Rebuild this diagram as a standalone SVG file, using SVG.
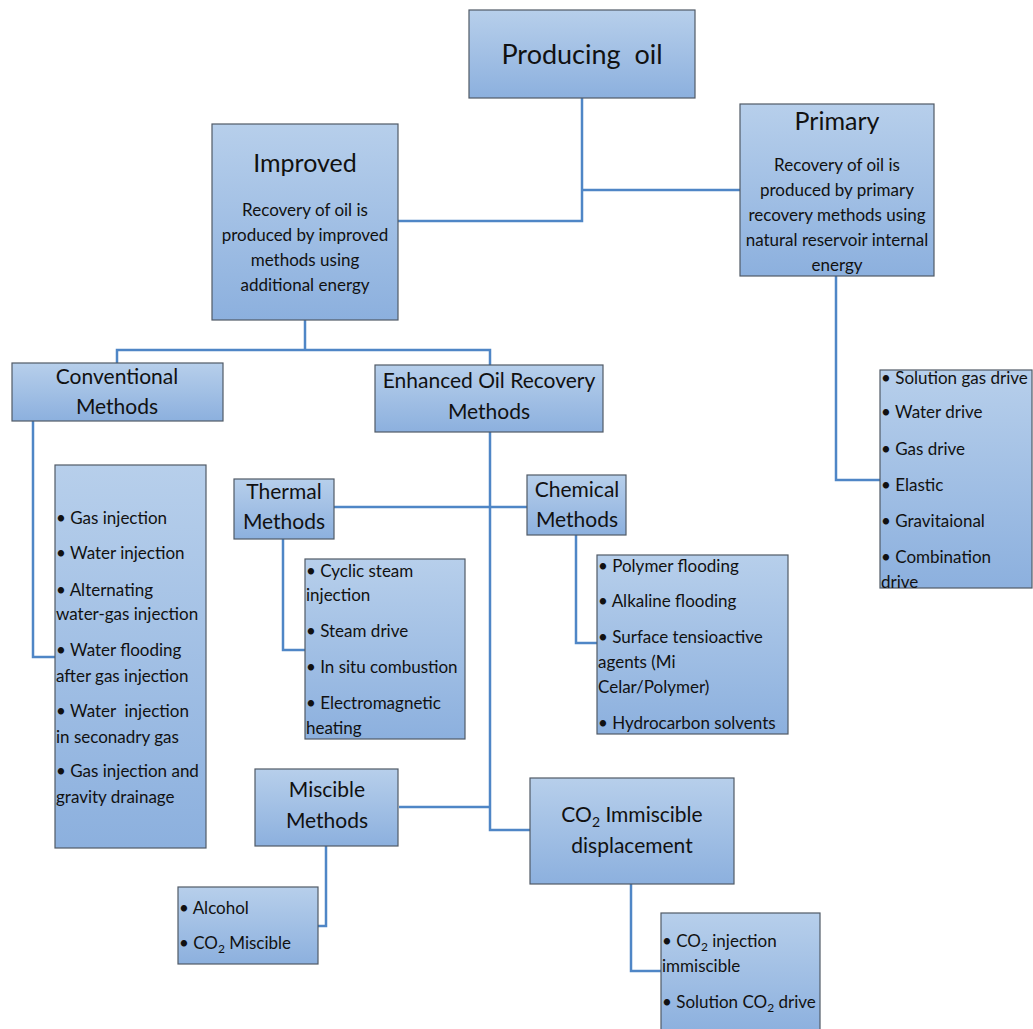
<svg xmlns="http://www.w3.org/2000/svg" width="1033" height="1029" viewBox="0 0 1033 1029">
<defs>
<linearGradient id="g" x1="0" y1="0" x2="0" y2="1">
<stop offset="0" stop-color="#b7cfeb"/>
<stop offset="1" stop-color="#8cb0de"/>
</linearGradient>
</defs>
<style>
.box{fill:url(#g);stroke:#505a66;stroke-width:1.2}
.ln{fill:none;stroke:#4f86c6;stroke-width:2.5}
text{font-family:Lato,"Liberation Sans",sans-serif;fill:#111}
.c{text-anchor:middle}
.t1{font-size:27px}
.t2{font-size:25px}
.t3{font-size:21px}
.b{font-size:17px}
.l{font-size:17px}
</style>
<rect width="1033" height="1029" fill="#fff"/>
<g id="connectors">
<polyline class="ln" points="582,98 582,221 398,221"/>
<line class="ln" x1="582" y1="190" x2="740" y2="190"/>
<polyline class="ln" points="836,276 836,480 880,480"/>
<polyline class="ln" points="305,320 305,350"/>
<polyline class="ln" points="117,363 117,350 490,350 490,365"/>
<polyline class="ln" points="33,421 33,657 55,657"/>
<polyline class="ln" points="490,432 490,830 530,830"/>
<line class="ln" x1="334" y1="507" x2="527" y2="507"/>
<line class="ln" x1="399" y1="807" x2="490" y2="807"/>
<polyline class="ln" points="283,539 283,650 305,650"/>
<polyline class="ln" points="576,535 576,643 597,643"/>
<polyline class="ln" points="326,846 326,926 318,926"/>
<polyline class="ln" points="631,884 631,971 661,971"/>
</g>
<g id="producing">
<rect class="box" x="469" y="10" width="226" height="88"/>
<text class="c t1" x="582" y="64" xml:space="preserve">Producing  oil</text>
</g>
<g id="primary">
<rect class="box" x="740" y="104" width="194" height="172"/>
<text class="c t2" x="837" y="130">Primary</text>
<text class="c b" x="837" y="171">Recovery of oil is</text>
<text class="c b" x="837" y="196">produced by primary</text>
<text class="c b" x="837" y="221">recovery methods using</text>
<text class="c b" x="837" y="246">natural reservoir internal</text>
<text class="c b" x="837" y="271">energy</text>
</g>
<g id="primary-list">
<rect class="box" x="880" y="370" width="152" height="218"/>
<text class="l" x="881" y="384">• Solution gas drive</text>
<text class="l" x="881" y="418">• Water drive</text>
<text class="l" x="881" y="455">• Gas drive</text>
<text class="l" x="881" y="491">• Elastic</text>
<text class="l" x="881" y="527">• Gravitaional</text>
<text class="l" x="881" y="563">• Combination</text>
<text class="l" x="881" y="588">drive</text>
</g>
<g id="improved">
<rect class="box" x="212" y="124" width="186" height="196"/>
<text class="c t2" x="305" y="172">Improved</text>
<text class="c b" x="305" y="216">Recovery of oil is</text>
<text class="c b" x="305" y="241">produced by improved</text>
<text class="c b" x="305" y="266">methods using</text>
<text class="c b" x="305" y="291">additional energy</text>
</g>
<g id="conventional">
<rect class="box" x="12" y="363" width="211" height="58"/>
<text class="c t3" x="117" y="384">Conventional</text>
<text class="c t3" x="117" y="414">Methods</text>
</g>
<g id="conventional-list">
<rect class="box" x="55" y="465" width="151" height="383"/>
<text class="l" x="56" y="524">• Gas injection</text>
<text class="l" x="56" y="559">• Water injection</text>
<text class="l" x="56" y="596">• Alternating</text>
<text class="l" x="56" y="620">water-gas injection</text>
<text class="l" x="56" y="656">• Water flooding</text>
<text class="l" x="56" y="682">after gas injection</text>
<text class="l" x="56" y="717" xml:space="preserve">• Water  injection</text>
<text class="l" x="56" y="743">in seconadry gas</text>
<text class="l" x="56" y="777">• Gas injection and</text>
<text class="l" x="56" y="803">gravity drainage</text>
</g>
<g id="eor">
<rect class="box" x="375" y="365" width="228" height="67"/>
<text class="c t3" x="489" y="388">Enhanced Oil Recovery</text>
<text class="c t3" x="489" y="419">Methods</text>
</g>
<g id="thermal">
<rect class="box" x="234" y="479" width="100" height="60"/>
<text class="c t3" x="284" y="499">Thermal</text>
<text class="c t3" x="284" y="529">Methods</text>
</g>
<g id="thermal-list">
<rect class="box" x="305" y="559" width="160" height="180"/>
<text class="l" x="306" y="577">• Cyclic steam</text>
<text class="l" x="306" y="601">injection</text>
<text class="l" x="306" y="637">• Steam drive</text>
<text class="l" x="306" y="673">• In situ combustion</text>
<text class="l" x="306" y="709">• Electromagnetic</text>
<text class="l" x="306" y="734">heating</text>
</g>
<g id="chemical">
<rect class="box" x="527" y="475" width="99" height="60"/>
<text class="c t3" x="577" y="497">Chemical</text>
<text class="c t3" x="577" y="527">Methods</text>
</g>
<g id="chemical-list">
<rect class="box" x="597" y="555" width="191" height="179"/>
<text class="l" x="598" y="572">• Polymer flooding</text>
<text class="l" x="598" y="607">• Alkaline flooding</text>
<text class="l" x="598" y="643">• Surface tensioactive</text>
<text class="l" x="598" y="668">agents (Mi</text>
<text class="l" x="598" y="693">Celar/Polymer)</text>
<text class="l" x="598" y="729">• Hydrocarbon solvents</text>
</g>
<g id="miscible">
<rect class="box" x="255" y="769" width="143" height="77"/>
<text class="c t3" x="327" y="797">Miscible</text>
<text class="c t3" x="327" y="828">Methods</text>
</g>
<g id="miscible-list">
<rect class="box" x="178" y="887" width="140" height="77"/>
<text class="l" x="179" y="914">• Alcohol</text>
<text class="l" x="179" y="949">• CO<tspan dy="4" font-size="12">2</tspan><tspan dy="-4"> Miscible</tspan></text>
</g>
<g id="co2-immiscible">
<rect class="box" x="530" y="778" width="204" height="106"/>
<text class="c t3" x="632" y="822">CO<tspan dy="5" font-size="14">2</tspan><tspan dy="-5"> Immiscible</tspan></text>
<text class="c t3" x="632" y="853">displacement</text>
</g>
<g id="co2-list">
<rect class="box" x="661" y="913" width="159" height="120"/>
<text class="l" x="662" y="947">• CO<tspan dy="4" font-size="12">2</tspan><tspan dy="-4"> injection</tspan></text>
<text class="l" x="662" y="972">immiscible</text>
<text class="l" x="662" y="1008">• Solution CO<tspan dy="4" font-size="12">2</tspan><tspan dy="-4"> drive</tspan></text>
</g>
</svg>
